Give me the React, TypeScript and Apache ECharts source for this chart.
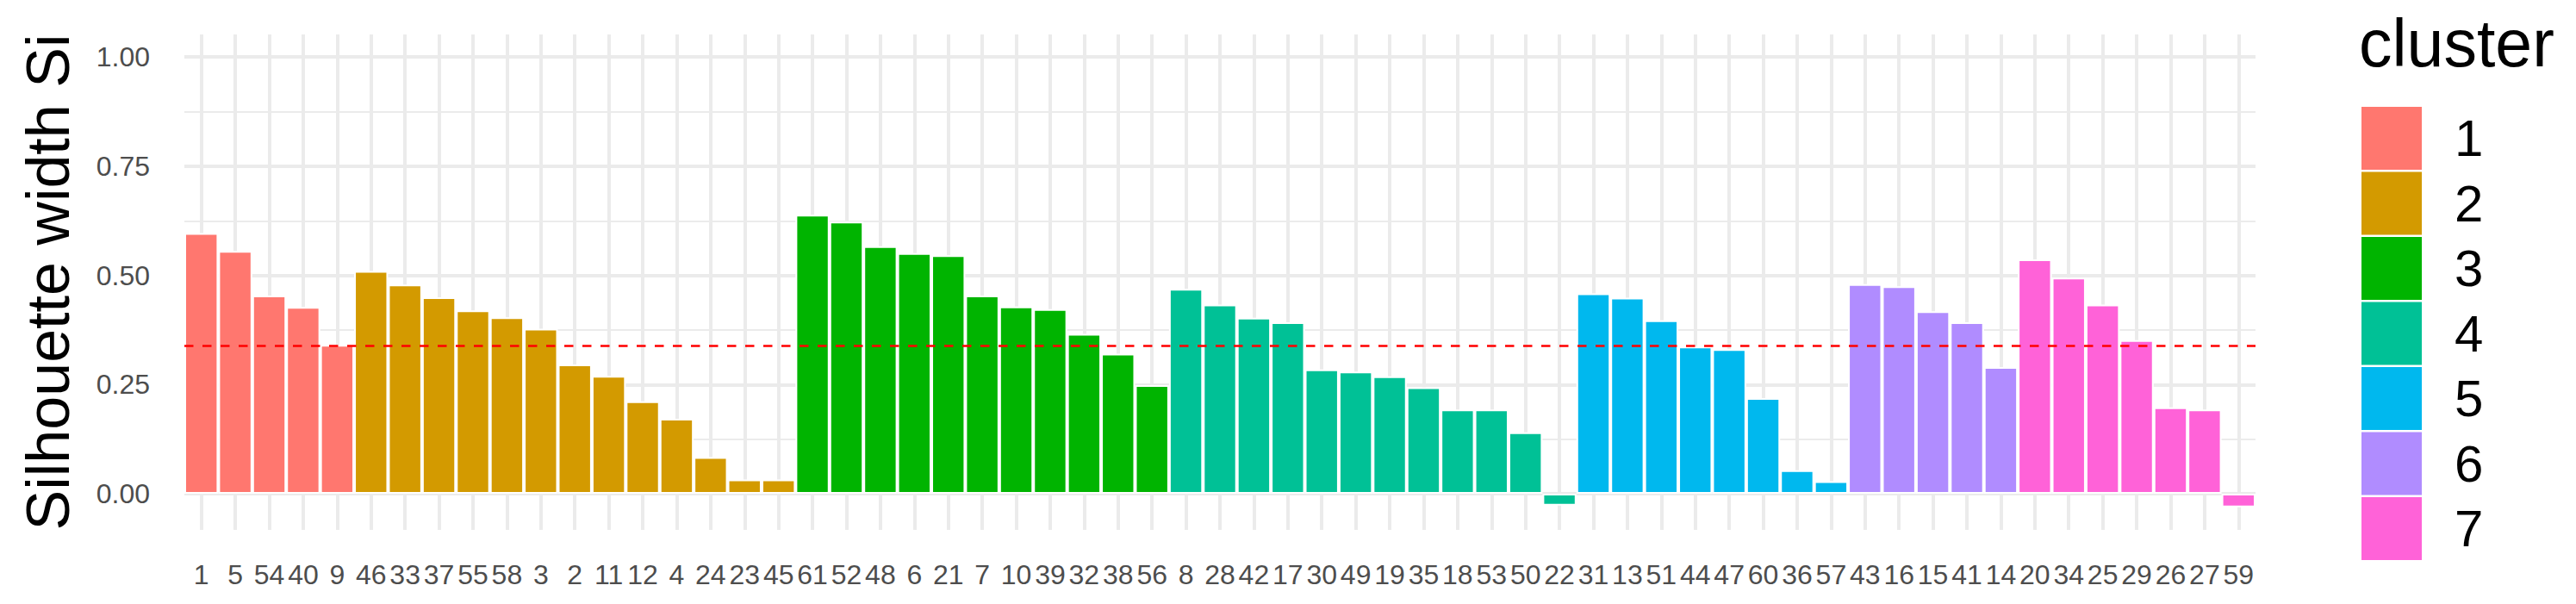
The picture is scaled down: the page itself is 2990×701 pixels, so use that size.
import React, { useEffect, useRef } from "react";
import * as echarts from "echarts";

// Observation labels, ordered as in the silhouette plot
const obsLabels = [
  "1", "5", "54", "40", "9",
  "46", "33", "37", "55", "58", "3", "2", "11", "12", "4", "24", "23", "45",
  "61", "52", "48", "6", "21", "7", "10", "39", "32", "38", "56",
  "8", "28", "42", "17", "30", "49", "19", "35", "18", "53", "50", "22",
  "31", "13", "51", "44", "47", "60", "36", "57",
  "43", "16", "15", "41", "14",
  "20", "34", "25", "29", "26", "27", "59",
];

// Silhouette widths per cluster (in plot order)
const cluster1 = [0.597, 0.556, 0.454, 0.428, 0.341];
const cluster2 = [0.510, 0.479, 0.450, 0.420, 0.404, 0.378, 0.296, 0.270, 0.212, 0.172, 0.084, 0.033, 0.033];
const cluster3 = [0.639, 0.623, 0.567, 0.551, 0.546, 0.454, 0.429, 0.423, 0.366, 0.321, 0.249];
const cluster4 = [0.469, 0.433, 0.403, 0.393, 0.285, 0.280, 0.269, 0.244, 0.193, 0.193, 0.141, -0.027];
const cluster5 = [0.459, 0.449, 0.397, 0.337, 0.331, 0.219, 0.054, 0.029];
const cluster6 = [0.480, 0.475, 0.418, 0.393, 0.290];
const cluster7 = [0.537, 0.495, 0.433, 0.352, 0.198, 0.193, -0.031];

const clusterNames = ["1", "2", "3", "4", "5", "6", "7"];
const clusterValues = [cluster1, cluster2, cluster3, cluster4, cluster5, cluster6, cluster7];
const clusterColors = ["#FF776F", "#D39A00", "#00B400", "#00C196", "#00B8EE", "#B08CFF", "#FF62D8"];

const meanSilhouette = 0.344;
const yMajorTicks = [0, 0.25, 0.5, 0.75, 1];
const yMinorTicks = [0.125, 0.375, 0.625, 0.875];
const yMin = -0.0826;
const yMax = 1.0516;

const FONT = '"Liberation Sans", Arial, Helvetica, sans-serif';

export default function App() {
  const ref = useRef<HTMLDivElement>(null);

  useEffect(() => {
    document.body.style.margin = "0";
    if (!ref.current) return;
    const chart = echarts.init(ref.current, undefined, { renderer: "svg" });

    let offset = 0;
    const series: any[] = clusterValues.map((vals, k) => {
      const data: any[] = obsLabels.map(() => "-");
      vals.forEach((v, i) => {
        data[offset + i] = v;
      });
      offset += vals.length;
      const s: any = {
        type: "bar",
        name: clusterNames[k],
        stack: "all",
        barCategoryGap: "0%",
        itemStyle: { color: clusterColors[k], borderColor: "#FFFFFF", borderWidth: 2 },
        data,
      };
      if (k === 0) {
        s.markLine = {
          silent: true,
          symbol: ["none", "none"],
          label: { show: false },
          lineStyle: { color: "#FF0000", type: [10.5, 10.5], width: 2.7 },
          data: [{ yAxis: meanSilhouette }],
        };
      }
      return s;
    });

    chart.setOption({
      animation: false,
      backgroundColor: "#FFFFFF",
      textStyle: { fontFamily: FONT },
      title: {
        text: "cluster",
        left: 2738,
        top: 11,
        padding: 0,
        textStyle: { fontSize: 77, fontWeight: "normal", color: "#000000", fontFamily: FONT },
      },
      legend: {
        data: clusterNames,
        orient: "vertical",
        left: 2741,
        top: 124,
        padding: 0,
        itemWidth: 70,
        itemHeight: 73,
        itemGap: 2.5,
        icon: "rect",
        selectedMode: false,
        itemStyle: { borderWidth: 0 },
        textStyle: { fontSize: 60, color: "#000000", fontFamily: FONT, padding: [0, 0, 0, 33] },
      },
      grid: { left: 214, right: 372, top: 40, bottom: 86, containLabel: false },
      xAxis: {
        type: "category",
        data: obsLabels,
        axisLine: { show: false },
        axisTick: { show: false },
        axisLabel: { interval: 0, fontSize: 32, color: "#4D4D4D", margin: 36, fontFamily: FONT },
        splitLine: {
          show: true,
          interval: 0,
          alignWithLabel: true,
          lineStyle: { color: "#EBEBEB", width: 4 },
        },
      },
      yAxis: [
        {
          type: "value",
          min: yMin,
          max: yMax,
          name: "Silhouette width Si",
          nameLocation: "middle",
          nameGap: 123,
          nameTextStyle: { fontSize: 70, color: "#000000", fontFamily: FONT },
          axisLine: { show: false },
          axisTick: { show: false, customValues: yMajorTicks },
          axisLabel: {
            customValues: yMajorTicks,
            formatter: (v: number) => v.toFixed(2),
            fontSize: 32,
            color: "#4D4D4D",
            margin: 40,
            fontFamily: FONT,
          },
          splitLine: { show: true, lineStyle: { color: "#EBEBEB", width: 4 } },
        },
        {
          type: "value",
          min: yMin,
          max: yMax,
          position: "right",
          axisLine: { show: false },
          axisTick: { show: false, customValues: yMinorTicks },
          axisLabel: { show: false, customValues: yMinorTicks },
          splitLine: { show: true, lineStyle: { color: "#EBEBEB", width: 2 } },
        },
      ],
      series,
    });

    return () => chart.dispose();
  }, []);

  return <div ref={ref} style={{ width: 2990, height: 701 }} />;
}
